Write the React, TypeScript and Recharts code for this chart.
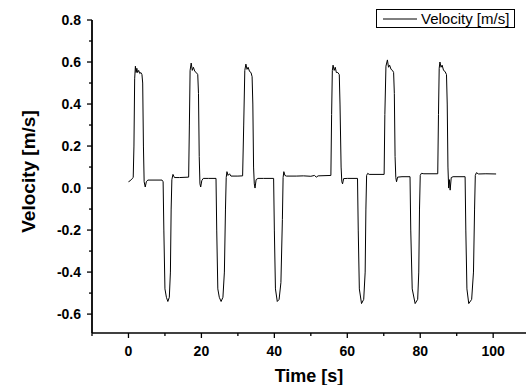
import { Label, Legend, Line, LineChart, XAxis, YAxis } from "recharts";

// velocity trace, time in s / velocity in m/s
const TIME = [
  0, 0.5, 1.0, 1.3, 1.5, 1.7, 1.9, 2.1, 2.3, 2.5, 2.8, 3.1, 3.4, 3.7, 3.9, 4.1, 4.3, 4.6, 4.9, 5.3, 7, 9.2, 9.5,
  9.7, 10.0, 10.4, 10.8, 11.2, 11.5, 11.7, 11.9, 12.2, 12.6, 14, 16.5,
  16.7, 16.9, 17.2, 17.5, 17.8, 18.2, 18.6, 19.0, 19.2, 19.4, 19.6, 19.8, 20.1, 20.5, 22, 24.0,
  24.2, 24.5, 24.9, 25.4, 25.9, 26.3, 26.6, 26.8, 27.0, 27.3, 27.7, 28.1, 30, 31.3,
  31.6, 31.9, 32.2, 32.5, 32.8, 33.2, 33.6, 33.9, 34.1, 34.3, 34.5, 34.7, 35.0, 35.5, 37, 39.8,
  40.0, 40.3, 40.8, 41.3, 41.8, 42.2, 42.4, 42.6, 42.9, 43.3, 46, 48, 50, 51, 51.5, 52, 55.5,
  55.7, 55.9, 56.1, 56.4, 56.7, 57.0, 57.4, 57.8, 58.0, 58.3, 58.5, 58.7, 59.0, 60, 62.8,
  63.0, 63.3, 63.9, 64.5, 64.9, 65.1, 65.3, 65.6, 66, 70.1,
  70.3, 70.6, 71.0, 71.3, 71.6, 72.0, 72.4, 72.7, 72.9, 73.1, 73.3, 73.5, 73.8, 75, 77.2,
  77.4, 77.8, 78.6, 79.3, 79.6, 79.8, 80.0, 80.3, 81, 84.8,
  85.0, 85.2, 85.4, 85.7, 86.0, 86.4, 86.8, 87.2, 87.4, 87.6, 87.8, 88.0, 88.2, 88.5, 89, 92.3,
  92.5, 92.8, 93.3, 94.1, 94.6, 94.9, 95.1, 95.4, 96, 98, 100.8,
];

const VELOCITY = [
  0.03, 0.035, 0.045, 0.05, 0.2, 0.52, 0.58, 0.55, 0.57, 0.55, 0.56, 0.545, 0.55, 0.54, 0.5, 0.2, 0.03, 0.005, 0.03, 0.038, 0.038, 0.038, 0.03,
  -0.2, -0.48, -0.52, -0.54, -0.52, -0.4, -0.1, 0.04, 0.065, 0.05, 0.05, 0.052,
  0.3, 0.56, 0.595, 0.56, 0.575, 0.555, 0.55, 0.54, 0.45, 0.15, 0.02, 0.005, 0.035, 0.046, 0.046, 0.046,
  -0.2, -0.48, -0.52, -0.54, -0.52, -0.4, -0.1, 0.05, 0.078, 0.06, 0.068, 0.057, 0.057, 0.058,
  0.3, 0.56, 0.59, 0.565, 0.575, 0.555, 0.55, 0.53, 0.4, 0.1, 0.02, 0.0, 0.04, 0.046, 0.046, 0.046,
  -0.2, -0.48, -0.54, -0.53, -0.45, -0.15, 0.05, 0.078, 0.06, 0.057, 0.057, 0.058, 0.056, 0.06, 0.052, 0.058, 0.06,
  0.35, 0.56, 0.585, 0.56, 0.575, 0.55, 0.55, 0.54, 0.4, 0.1, 0.03, 0.02, 0.045, 0.046, 0.046,
  -0.2, -0.48, -0.55, -0.53, -0.4, -0.1, 0.06, 0.07, 0.065, 0.065,
  0.35, 0.58, 0.61, 0.575, 0.585, 0.565, 0.56, 0.55, 0.45, 0.15, 0.05, 0.03, 0.052, 0.054, 0.054,
  -0.2, -0.48, -0.55, -0.53, -0.4, -0.1, 0.06, 0.07, 0.068, 0.068,
  0.35, 0.57, 0.6, 0.575, 0.585, 0.56, 0.555, 0.54, 0.4, 0.1, 0.0, 0.04, -0.01, 0.05, 0.054, 0.054,
  -0.2, -0.48, -0.55, -0.53, -0.4, -0.1, 0.06, 0.073, 0.067, 0.068, 0.067,
];

const X_TICKS = [-10, 0, 10, 20, 30, 40, 50, 60, 70, 80, 90, 100];
const Y_TICKS = [-0.6, -0.5, -0.4, -0.3, -0.2, -0.1, 0, 0.1, 0.2, 0.3, 0.4, 0.5, 0.6, 0.7, 0.8];

const data = TIME.map((t, i) => ({ t, v: VELOCITY[i] }));

const FONT = "'Liberation Sans', Arial, sans-serif";

function XTick(props: any) {
  const { x, y, payload } = props;
  const major = payload.value % 20 === 0;
  return (
    <g>
      <line x1={x} x2={x} y1={y} y2={y + (major ? 5 : 3)} stroke="#000" strokeWidth={1.3} />
      {major && (
        <text x={x} y={y + 23} textAnchor="middle" fontFamily={FONT} fontWeight="bold" fontSize={14} fill="#000">
          {payload.value}
        </text>
      )}
    </g>
  );
}

function YTick(props: any) {
  const { x, y, payload } = props;
  const major = Math.round(payload.value * 10) % 2 === 0;
  return (
    <g>
      <line x1={x - (major ? 5 : 3)} x2={x} y1={y} y2={y} stroke="#000" strokeWidth={1.3} />
      {major && (
        <text x={x - 11} y={y + 5} textAnchor="end" fontFamily={FONT} fontWeight="bold" fontSize={14} fill="#000">
          {payload.value.toFixed(1)}
        </text>
      )}
    </g>
  );
}

function LegendBox() {
  return (
    <div
      style={{
        border: "1px solid #000",
        height: 17,
        width: 137,
        display: "flex",
        alignItems: "center",
        fontFamily: FONT,
        fontSize: 15,
        background: "#fff",
        boxSizing: "content-box",
      }}
    >
      <svg width={42} height={17}>
        <line x1={6} x2={40} y1={9} y2={9} stroke="#000" strokeWidth={1} />
      </svg>
      <span style={{ marginLeft: 2, lineHeight: "17px" }}>Velocity [m/s]</span>
    </div>
  );
}

export default function App() {
  return (
    <div style={{ position: "absolute", left: 0, top: 0, background: "#fff" }}>
      <LineChart width={526} height={385} data={data} margin={{ top: 20, right: 0, bottom: 0, left: 0 }}>
        <XAxis
          type="number"
          dataKey="t"
          domain={[-10, 109]}
          ticks={X_TICKS}
          interval={0}
          tickSize={0}
          tickMargin={0}
          tickLine={false}
          tick={<XTick />}
          axisLine={{ stroke: "#000", strokeWidth: 1.6 }}
          height={52}
        >
          <Label
            content={({ viewBox }: any) => (
              <text
                x={viewBox.x + viewBox.width / 2}
                y={viewBox.y + 49}
                textAnchor="middle"
                fontFamily={FONT}
                fontWeight="bold"
                fontSize={18}
                fill="#000"
              >
                Time [s]
              </text>
            )}
          />
        </XAxis>
        <YAxis
          type="number"
          dataKey="v"
          domain={[-0.69, 0.8]}
          ticks={Y_TICKS}
          interval={0}
          tickSize={0}
          tickMargin={0}
          tickLine={false}
          tick={<YTick />}
          axisLine={{ stroke: "#000", strokeWidth: 1.8 }}
          width={92}
        >
          <Label
            content={({ viewBox }: any) => {
              const cx = 28;
              const cy = viewBox.y + viewBox.height / 2 - 5;
              return (
                <text
                  x={cx}
                  y={cy}
                  transform={`rotate(-90 ${cx} ${cy})`}
                  textAnchor="middle"
                  dominantBaseline="central"
                  fontFamily={FONT}
                  fontWeight="bold"
                  fontSize={19}
                  fill="#000"
                >
                  Velocity [m/s]
                </text>
              );
            }}
          />
        </YAxis>
        <Legend
          layout="horizontal"
          verticalAlign="middle"
          align="center"
          content={() => <LegendBox />}
          wrapperStyle={{ position: "absolute", top: 9, left: 376, width: "auto", height: "auto" }}
        />
        <Line
          type="linear"
          dataKey="v"
          stroke="#000"
          strokeWidth={1}
          dot={false}
          isAnimationActive={false}
          name="Velocity [m/s]"
        />
      </LineChart>
    </div>
  );
}
